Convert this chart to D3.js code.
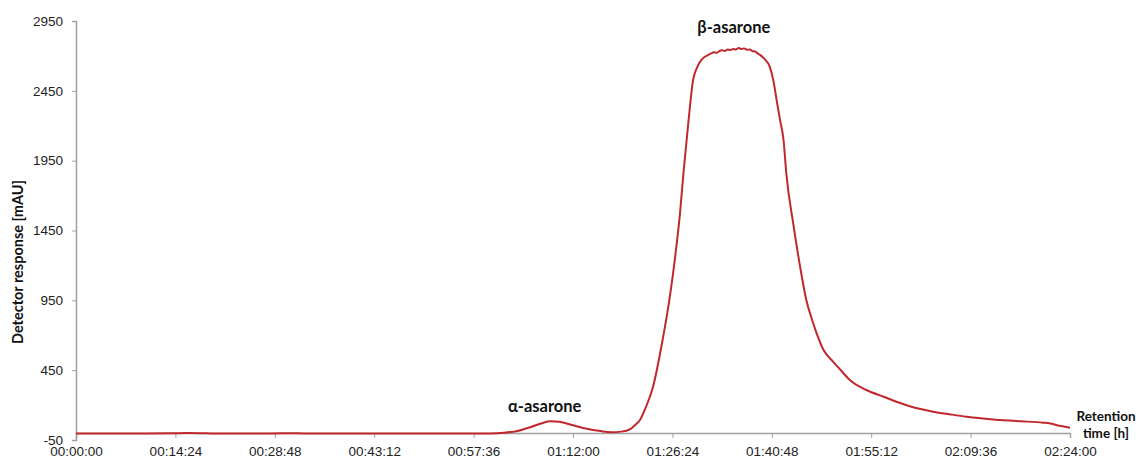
<!DOCTYPE html>
<html>
<head>
<meta charset="utf-8">
<script src="https://cdn.jsdelivr.net/npm/d3@7"></script>
<style>
  html, body { margin: 0; padding: 0; background: #fff; }
  svg { display: block; font-family: Lato, "Open Sans", "DejaVu Sans", sans-serif; }
</style>
</head>
<body>
<svg id="chart" width="1136" height="459"></svg>
<script>
// Retention time (minutes)
const timeMin = [0, 5, 10, 14, 16, 18, 20, 28, 31, 33, 45, 58, 60, 62, 64, 66, 67.5, 68.7, 70, 72, 74, 76, 77.5, 79,
  80.3, 81.0, 81.7, 82.6, 83.6, 84.8, 86.1, 86.8, 87.5, 88.0, 88.7, 89.4, 90.0, 90.6, 91.1, 91.6,
  92.0, 92.4, 92.8, 93.2, 93.6, 94.0, 94.4, 94.8, 95.2, 95.6, 96.0, 96.4, 96.8, 97.2, 97.6, 98.0, 98.4, 98.8,
  99.1, 99.8, 100.5, 101.0, 101.5, 102.0, 102.5, 102.9, 103.9, 104.9, 105.8, 106.8, 107.3, 108.3, 109.7, 110.7, 112.1, 114.5,
  117.0, 119.8, 122, 124.2, 126.5, 129.0, 131.5, 133.9, 137, 140.1, 141, 142.5, 144];
// Detector response (mAU)
const response = [-4, -4, -3, -2, 0, -1, -4, -3, -2, -3, -4, -4, -3, 2, 15, 45, 70, 85, 80, 55, 30, 14, 6, 10,
  28, 58, 93, 190, 332, 618, 1000, 1262, 1573, 1860, 2218, 2528, 2620, 2671, 2694, 2707,
  2718, 2726, 2722, 2734, 2740, 2736, 2746, 2742, 2750, 2746, 2756, 2750, 2754, 2744, 2746, 2734, 2732, 2716,
  2707, 2675, 2623, 2530, 2384, 2240, 2098, 1860, 1501, 1191, 952, 786, 714, 594, 510, 455, 380, 308,
  260, 208, 175, 153, 135, 117, 104, 93, 84, 74, 70, 52, 38];
const yTicks = [-50, 450, 950, 1450, 1950, 2450, 2950];
const xTicks = [0, 14.4, 28.8, 43.2, 57.6, 72, 86.4, 100.8, 115.2, 129.6, 144];
const peakLabels = [
  { text: "α-asarone", t: 67.9, v: 148 },
  { text: "β-asarone", t: 95.3, v: 2862 }
];

const svg = d3.select("#chart");
const mLeft = 76, mRight = 1070, mTop = 21, mBottom = 440;

const x = d3.scaleLinear().domain([0, 144]).range([mLeft, mRight]);
const y = d3.scaleLinear().domain([-50, 2950]).range([mBottom, mTop]);

function fmt(m) {
  const s = Math.round(m * 60);
  const hh = Math.floor(s / 3600), mm = Math.floor((s % 3600) / 60), ss = s % 60;
  return [hh, mm, ss].map(v => String(v).padStart(2, "0")).join(":");
}

const axisColor = "#a0a0a0";

// Y axis
const gy = svg.append("g").attr("transform", `translate(${mLeft},0)`)
  .call(d3.axisLeft(y).tickValues(yTicks).tickFormat(d => String(d)).tickSize(4).tickPadding(9));
gy.select(".domain").attr("stroke", axisColor).attr("stroke-width", 1.5);
gy.selectAll(".tick line").attr("stroke", axisColor);
gy.selectAll(".tick text").attr("fill", "#222").style("font-size", "13.5px");

// X axis at y = 0
const gx = svg.append("g").attr("transform", `translate(0,${y(0)})`)
  .call(d3.axisBottom(x).tickValues(xTicks).tickFormat(fmt).tickSize(5).tickPadding(8));
gx.select(".domain").attr("stroke", axisColor).attr("stroke-width", 1.5);
gx.selectAll(".tick line").attr("stroke", axisColor);
gx.selectAll(".tick text").attr("fill", "#222").style("font-size", "13.5px");

// Trace
const data = timeMin.map((t, i) => [t, response[i]]);
svg.append("path")
  .datum(data)
  .attr("fill", "none")
  .attr("stroke", "#c0282d")
  .attr("stroke-width", 2)
  .attr("stroke-linejoin", "round")
  .attr("d", d3.line().x(d => x(d[0])).y(d => y(d[1])).curve(d3.curveMonotoneX));

// Peak labels
svg.selectAll(".peak").data(peakLabels).enter().append("text")
  .attr("x", d => x(d.t)).attr("y", d => y(d.v))
  .attr("text-anchor", "middle")
  .style("font-size", "16.5px").style("font-weight", "bold").attr("fill", "#111")
  .text(d => d.text);

// Y axis title
svg.append("text")
  .attr("transform", "translate(23,262) rotate(-90)")
  .attr("text-anchor", "middle")
  .style("font-size", "14.5px").style("font-weight", "bold").attr("fill", "#111")
  .text("Detector response [mAU]");

// X axis title
const xt = svg.append("text")
  .attr("text-anchor", "middle")
  .style("font-size", "13.5px").style("font-weight", "bold").attr("fill", "#111");
xt.append("tspan").attr("x", 1106).attr("y", 421).text("Retention");
xt.append("tspan").attr("x", 1106).attr("y", 438).text("time [h]");
</script>
</body>
</html>
